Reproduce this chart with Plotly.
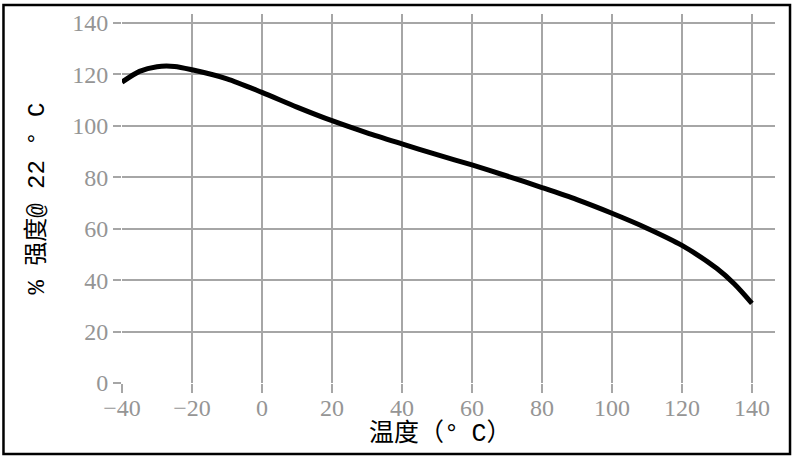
import plotly.graph_objects as go

temp = [-40, -35, -30, -25, -20, -10, 0, 10, 20, 30, 40, 50, 60, 70, 80, 90, 100, 110, 120, 130, 135, 140]
strength = [117, 121.2, 123, 123.1, 121.8, 118.3, 113, 107.3, 102, 97.3, 93, 88.8, 84.8, 80.5, 76, 71.3, 66, 60.2, 53.5, 44.5, 38.5, 31]

x_ticks = list(range(-40, 141, 20))
y_ticks = list(range(0, 141, 20))

grid = '#a6a6a6'
tick_font = dict(family='Liberation Serif, Times New Roman, serif', size=24, color='#959595')
title_font = dict(family='Liberation Mono, Noto Sans CJK SC', size=24, color='black')

fig = go.Figure()
fig.add_trace(go.Scatter(x=temp, y=strength, mode='lines',
                         line=dict(color='black', width=5, shape='spline', smoothing=0.8),
                         showlegend=False))

fig.update_xaxes(range=[-40, 146.6], tickvals=x_ticks,
                 ticktext=[str(v).replace('-', '\u2212') for v in x_ticks],
                 showgrid=True, gridcolor=grid, gridwidth=1.5,
                 ticks='outside', ticklen=9, tickcolor=grid, tickwidth=1.5,
                 ticklabelstandoff=-6,
                 showline=False, zeroline=False, tickfont=tick_font, automargin=False)
fig.update_yaxes(range=[0, 143.5], tickvals=y_ticks,
                 showgrid=True, gridcolor=grid, gridwidth=1.5,
                 ticks='outside', ticklen=8, tickcolor=grid, tickwidth=1.5,
                 showline=False, zeroline=False, tickfont=tick_font, automargin=False,
                 title=dict(text='% 强度@ 22 ° C', font=title_font, standoff=20))

# x title placed by hand so it sits close under the tick labels
fig.add_annotation(text='温度（°\u2002C）', xref='paper', yref='paper',
                   x=0.4885, y=-0.138, xanchor='center', yanchor='middle',
                   showarrow=False, font=dict(title_font, size=25))

# frame around the whole chart
fig.add_shape(type='rect', xref='paper', yref='paper',
              x0=-0.1815, x1=1.023, y0=-0.1924, y1=1.0244,
              line=dict(color='black', width=2.5))

fig.update_layout(width=806, height=467,
                  margin=dict(l=122, r=31, t=14, b=84),
                  plot_bgcolor='white', paper_bgcolor='white')

fig.write_html("out.html", config={'displayModeBar': False},
               post_script="document.body.style.margin='0px';")
